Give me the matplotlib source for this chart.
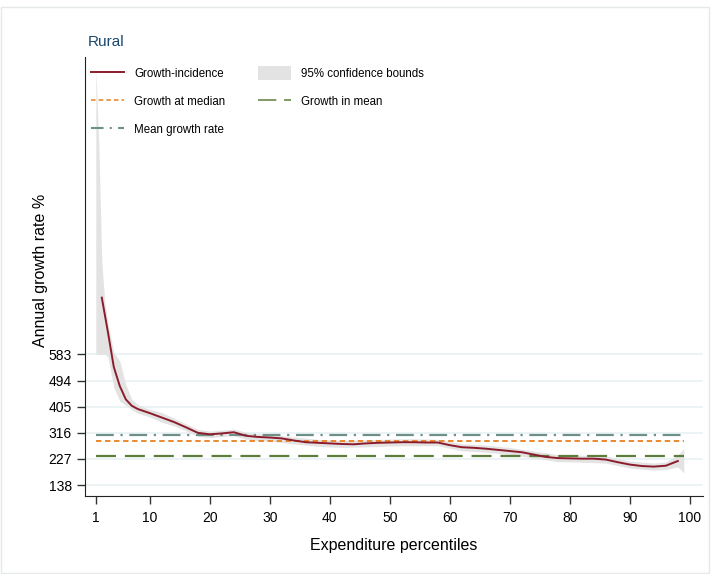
import numpy as np
import matplotlib
matplotlib.use("Agg")
import matplotlib.pyplot as plt
from matplotlib.patches import Patch
from matplotlib.lines import Line2D

plt.rcParams['font.family'] = ['Liberation Sans', 'DejaVu Sans']

# growth-incidence curve
pct = [2, 3, 4, 5, 6, 7, 8, 9, 10, 12, 14, 16, 18, 20, 22, 24, 26, 28, 30, 32, 34, 36, 38,
       40, 42, 44, 46, 48, 50, 52, 54, 56, 58, 60, 62, 64, 66, 68, 70, 72, 74, 76, 78,
       80, 82, 84, 86, 88, 90, 92, 94, 96, 98]
gic = [776, 661, 540, 475, 430, 408, 397, 390, 383, 368, 353, 335, 316, 311, 314, 318, 306,
       302, 300, 297, 290, 284, 282, 280, 278, 277, 280, 282, 283, 284, 284, 283, 283,
       274, 267, 265, 262, 258, 254, 250, 242, 234, 230, 229, 228, 228, 225, 216, 208,
       203, 201, 204, 220]

# 95% confidence bounds
ci_pct = [1, 1.5, 2, 2.5, 3, 4, 5, 6, 7, 8, 10, 12, 14, 16, 18, 20, 22, 24, 26, 28, 30, 34,
          38, 42, 46, 50, 54, 58, 62, 66, 70, 74, 78, 82, 86, 90, 94, 96, 98, 99]
ci_hi = [1560, 1300, 900, 760, 690, 590, 560, 480, 430, 412, 396, 385, 366, 347, 328, 322,
         325, 329, 318, 313, 310, 302, 294, 290, 292, 295, 296, 294, 279, 274, 266, 254,
         242, 240, 237, 220, 213, 217, 240, 262]
ci_lo = [583, 583, 583, 583, 575, 470, 424, 410, 395, 383, 370, 352, 340, 323, 304, 300,
         303, 307, 294, 290, 288, 278, 270, 266, 268, 271, 272, 272, 255, 250, 242, 230,
         218, 216, 213, 196, 189, 191, 200, 180]

growth_median = 289
growth_in_mean = 237
mean_growth_rate = 309
line_span = [1, 99]

yticks = [138, 227, 316, 405, 494, 583]
xticks = [1, 10, 20, 30, 40, 50, 60, 70, 80, 90, 100]

fig = plt.figure(figsize=(7.13, 5.74), dpi=100)
ax = fig.add_axes([85 / 713, 1 - 496 / 574, 618 / 713, 439 / 574])

for t in yticks:
    ax.axhline(t, color='#e8f1f3', lw=1.2, zorder=0)

ax.fill_between(ci_pct, ci_lo, ci_hi, color='#e3e3e3', lw=0, zorder=1)
ax.plot(pct, gic, color='#8c1c2c', lw=1.4, zorder=4)
ax.plot(line_span, [growth_median] * 2, color='#e8801e', lw=1.3, ls=(0, (3, 2)), zorder=3)
ax.plot(line_span, [growth_in_mean] * 2, color='#5d7d3c', lw=1.6, ls=(0, (9, 4)), zorder=3)
ax.plot(line_span, [mean_growth_rate] * 2, color='#6f9088', lw=1.6,
        ls=(0, (8, 3, 1, 3)), zorder=3)

ax.set_xlim(-0.8, 102.2)
ax.set_ylim(101, 1595)
ax.set_xticks(xticks)
ax.set_yticks(yticks)
ax.tick_params(axis='both', labelsize=10, length=6, width=1, color='#333333')
ax.tick_params(axis='x', pad=5)
for s in ['top', 'right']:
    ax.spines[s].set_visible(False)
for s in ['left', 'bottom']:
    ax.spines[s].set_color('#222222')

ax.set_xlabel('Expenditure percentiles', fontsize=11.5, labelpad=9)
ax.set_ylabel('Annual growth rate %', fontsize=11.5)
ax.yaxis.set_label_coords(-0.06, 0.515)
fig.text(88 / 713, 1 - 42 / 574, 'Rural', fontsize=11, color='#1a476f', va='center')

handles = [
    Line2D([], [], color='#8c1c2c', lw=1.4),
    Line2D([], [], color='#e8801e', lw=1.1, ls=(0, (3, 2))),
    Line2D([], [], color='#6f9088', lw=1.5, ls=(0, (6, 3, 1, 3))),
    Patch(facecolor='#e3e3e3', edgecolor='none'),
    Line2D([], [], color='#5d7d3c', lw=1.1, ls=(0, (12, 5))),
]
labels = ['Growth-incidence', 'Growth at median', 'Mean growth rate',
          '95% confidence bounds', 'Growth in mean']
ax.legend(handles, labels, loc='upper left', bbox_to_anchor=(-0.003, 0.997), ncol=2,
          frameon=False, fontsize=8.3, handlelength=2.85, handleheight=1.45,
          columnspacing=2.8, labelspacing=1.25, handletextpad=0.9, borderaxespad=0.3)

fig.patches.append(plt.Rectangle((0.002, 0.002), 0.993, 0.985, transform=fig.transFigure,
                                 fill=False, edgecolor='#e4e8ea', lw=1))

fig.savefig('out.png', dpi=100)
